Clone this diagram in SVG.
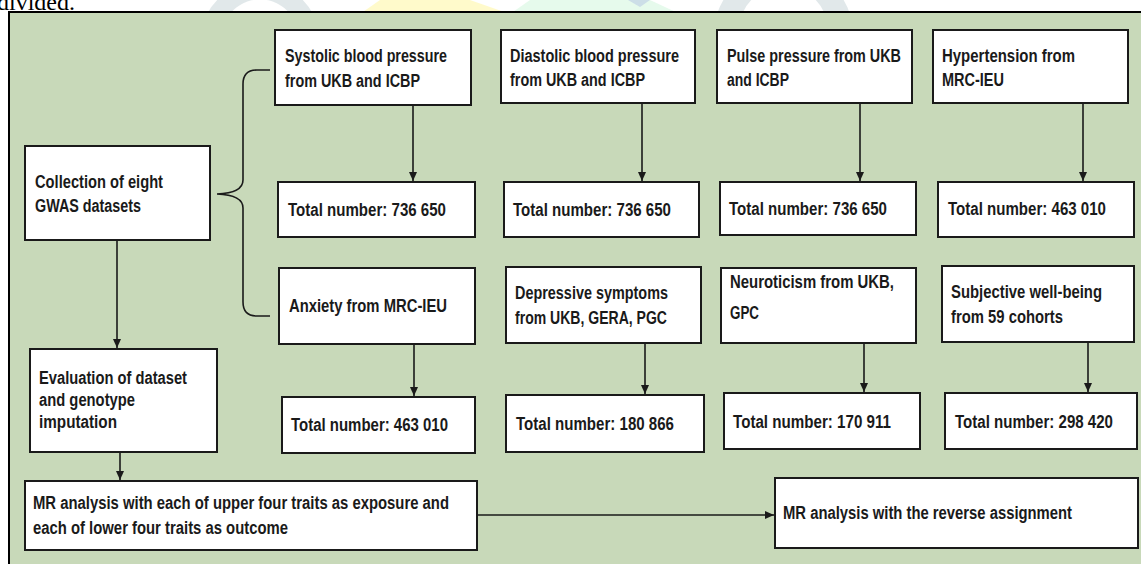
<svg xmlns="http://www.w3.org/2000/svg" width="1141" height="564" viewBox="0 0 1141 564">
<style>
.box{fill:#ffffff;stroke:#1a1a1a;stroke-width:2}
.t{font-family:"Liberation Sans",Arial,sans-serif;font-weight:bold;font-size:18px;fill:#1a1a1a}
.c{fill:none;stroke:#1a1a1a;stroke-width:1.6}
.wm{opacity:0.35}
</style>
<defs>
<marker id="ah" markerUnits="userSpaceOnUse" markerWidth="10" markerHeight="9" refX="9" refY="4" orient="auto">
<path d="M0,0 L9,4 L0,8 z" fill="#1a1a1a"/>
</marker>
</defs>
<rect x="0" y="0" width="1141" height="564" fill="#ffffff"/>
<g id="watermark">
<path class="wm" d="M207,14 A60,60 0 0 1 313,14 L290,14 A38,38 0 0 0 230,14 Z" fill="#a9bcc4"/>
<path class="wm" d="M360,14 L510,14 L470,0 L380,0 Z" fill="#fff06a"/>
<path class="wm" d="M510,14 L680,14 L650,0 L530,0 Z" fill="#b8f0c8"/>
<path class="wm" d="M628,0 L650,0 L640,7 Z" fill="#9aa8e0"/>
<path class="wm" d="M717,14 A70,70 0 0 1 850,14 L825,14 A45,45 0 0 0 742,14 Z" fill="#a9bcc4"/>
</g>
<text x="-3" y="9.5" font-family="'Liberation Serif','Times New Roman',serif" font-size="24" fill="#000">divided.</text>
<rect id="frame" x="9" y="12" width="1150" height="570" fill="#c8d9b9" stroke="#000" stroke-width="2"/>
<g id="connectors">
<path class="c" d="M270,70 L257,70 Q243,70 243,84 L243,180 Q243,193 217,194 Q243,195 243,208 L243,302 Q243,316 257,316 L270,316"/>
<line class="c" x1="117" y1="240" x2="117" y2="348" marker-end="url(#ah)"/>
<line class="c" x1="120" y1="452" x2="120" y2="480" marker-end="url(#ah)"/>
<line class="c" x1="413" y1="105" x2="413" y2="181" marker-end="url(#ah)"/>
<line class="c" x1="642" y1="103" x2="642" y2="181" marker-end="url(#ah)"/>
<line class="c" x1="860" y1="103" x2="860" y2="181" marker-end="url(#ah)"/>
<line class="c" x1="1083" y1="103" x2="1083" y2="181" marker-end="url(#ah)"/>
<line class="c" x1="414" y1="344" x2="414" y2="396" marker-end="url(#ah)"/>
<line class="c" x1="645" y1="343" x2="645" y2="394" marker-end="url(#ah)"/>
<line class="c" x1="864" y1="343" x2="864" y2="392" marker-end="url(#ah)"/>
<line class="c" x1="1088" y1="342" x2="1088" y2="392" marker-end="url(#ah)"/>
<line class="c" x1="477" y1="515" x2="774" y2="515" marker-end="url(#ah)"/>
</g>
<g id="n-collection"><rect class="box" x="25" y="146" width="185" height="94"/>
<text class="t" x="35" y="188" textLength="128" lengthAdjust="spacingAndGlyphs">Collection of eight</text>
<text class="t" x="35" y="212" textLength="106" lengthAdjust="spacingAndGlyphs">GWAS datasets</text></g>
<g id="n-evaluation"><rect class="box" x="30" y="349" width="187" height="103"/>
<text class="t" x="39" y="384" textLength="148" lengthAdjust="spacingAndGlyphs">Evaluation of dataset</text>
<text class="t" x="39" y="406" textLength="96" lengthAdjust="spacingAndGlyphs">and genotype</text>
<text class="t" x="39" y="428" textLength="78" lengthAdjust="spacingAndGlyphs">imputation</text></g>
<g id="n-sbp"><rect class="box" x="275" y="30" width="196" height="75"/>
<text class="t" x="285" y="62" textLength="162" lengthAdjust="spacingAndGlyphs">Systolic blood pressure</text>
<text class="t" x="285" y="87" textLength="135" lengthAdjust="spacingAndGlyphs">from UKB and ICBP</text></g>
<g id="n-dbp"><rect class="box" x="501" y="30" width="194" height="73"/>
<text class="t" x="510" y="62" textLength="169" lengthAdjust="spacingAndGlyphs">Diastolic blood pressure</text>
<text class="t" x="510" y="86" textLength="135" lengthAdjust="spacingAndGlyphs">from UKB and ICBP</text></g>
<g id="n-pp"><rect class="box" x="717" y="30" width="195" height="73"/>
<text class="t" x="727" y="62" textLength="174" lengthAdjust="spacingAndGlyphs">Pulse pressure from UKB</text>
<text class="t" x="727" y="86" textLength="62" lengthAdjust="spacingAndGlyphs">and ICBP</text></g>
<g id="n-ht"><rect class="box" x="933" y="30" width="195" height="73"/>
<text class="t" x="942" y="62" textLength="133" lengthAdjust="spacingAndGlyphs">Hypertension from</text>
<text class="t" x="942" y="86" textLength="62" lengthAdjust="spacingAndGlyphs">MRC-IEU</text></g>
<g id="n-total-sbp"><rect class="box" x="278" y="182" width="197" height="55"/>
<text class="t" x="288" y="216" textLength="158" lengthAdjust="spacingAndGlyphs">Total number: 736 650</text></g>
<g id="n-total-dbp"><rect class="box" x="504" y="182" width="195" height="55"/>
<text class="t" x="513" y="216" textLength="158" lengthAdjust="spacingAndGlyphs">Total number: 736 650</text></g>
<g id="n-total-pp"><rect class="box" x="720" y="182" width="196" height="53"/>
<text class="t" x="729" y="215" textLength="158" lengthAdjust="spacingAndGlyphs">Total number: 736 650</text></g>
<g id="n-total-ht"><rect class="box" x="938" y="182" width="196" height="55"/>
<text class="t" x="948" y="215" textLength="158" lengthAdjust="spacingAndGlyphs">Total number: 463 010</text></g>
<g id="n-anx"><rect class="box" x="279" y="268" width="196" height="76"/>
<text class="t" x="289" y="312" textLength="158" lengthAdjust="spacingAndGlyphs">Anxiety from MRC-IEU</text></g>
<g id="n-dep"><rect class="box" x="506" y="267" width="195" height="76"/>
<text class="t" x="515" y="299" textLength="153" lengthAdjust="spacingAndGlyphs">Depressive symptoms</text>
<text class="t" x="515" y="324" textLength="152" lengthAdjust="spacingAndGlyphs">from UKB, GERA, PGC</text></g>
<g id="n-neu"><rect class="box" x="721" y="268" width="195" height="75"/>
<text class="t" x="730" y="288" textLength="164" lengthAdjust="spacingAndGlyphs">Neuroticism from UKB,</text>
<text class="t" x="730" y="319" textLength="29" lengthAdjust="spacingAndGlyphs">GPC</text></g>
<g id="n-swb"><rect class="box" x="942" y="266" width="192" height="76"/>
<text class="t" x="951" y="298" textLength="151" lengthAdjust="spacingAndGlyphs">Subjective well-being</text>
<text class="t" x="951" y="323" textLength="112" lengthAdjust="spacingAndGlyphs">from 59 cohorts</text></g>
<g id="n-total-anx"><rect class="box" x="282" y="397" width="193" height="56"/>
<text class="t" x="291" y="431" textLength="157" lengthAdjust="spacingAndGlyphs">Total number: 463 010</text></g>
<g id="n-total-dep"><rect class="box" x="506" y="395" width="198" height="57"/>
<text class="t" x="516" y="430" textLength="158" lengthAdjust="spacingAndGlyphs">Total number: 180 866</text></g>
<g id="n-total-neu"><rect class="box" x="724" y="393" width="196" height="56"/>
<text class="t" x="733" y="428" textLength="158" lengthAdjust="spacingAndGlyphs">Total number: 170 911</text></g>
<g id="n-total-swb"><rect class="box" x="945" y="393" width="192" height="56"/>
<text class="t" x="955" y="428" textLength="158" lengthAdjust="spacingAndGlyphs">Total number: 298 420</text></g>
<g id="n-mr"><rect class="box" x="25" y="481" width="452" height="69"/>
<text class="t" x="33" y="509" textLength="416" lengthAdjust="spacingAndGlyphs">MR analysis with each of upper four traits as exposure and</text>
<text class="t" x="33" y="534" textLength="255" lengthAdjust="spacingAndGlyphs">each of lower four traits as outcome</text></g>
<g id="n-reverse"><rect class="box" x="775" y="478" width="363" height="70"/>
<text class="t" x="783" y="519" textLength="289" lengthAdjust="spacingAndGlyphs">MR analysis with the reverse assignment</text></g>
</svg>
